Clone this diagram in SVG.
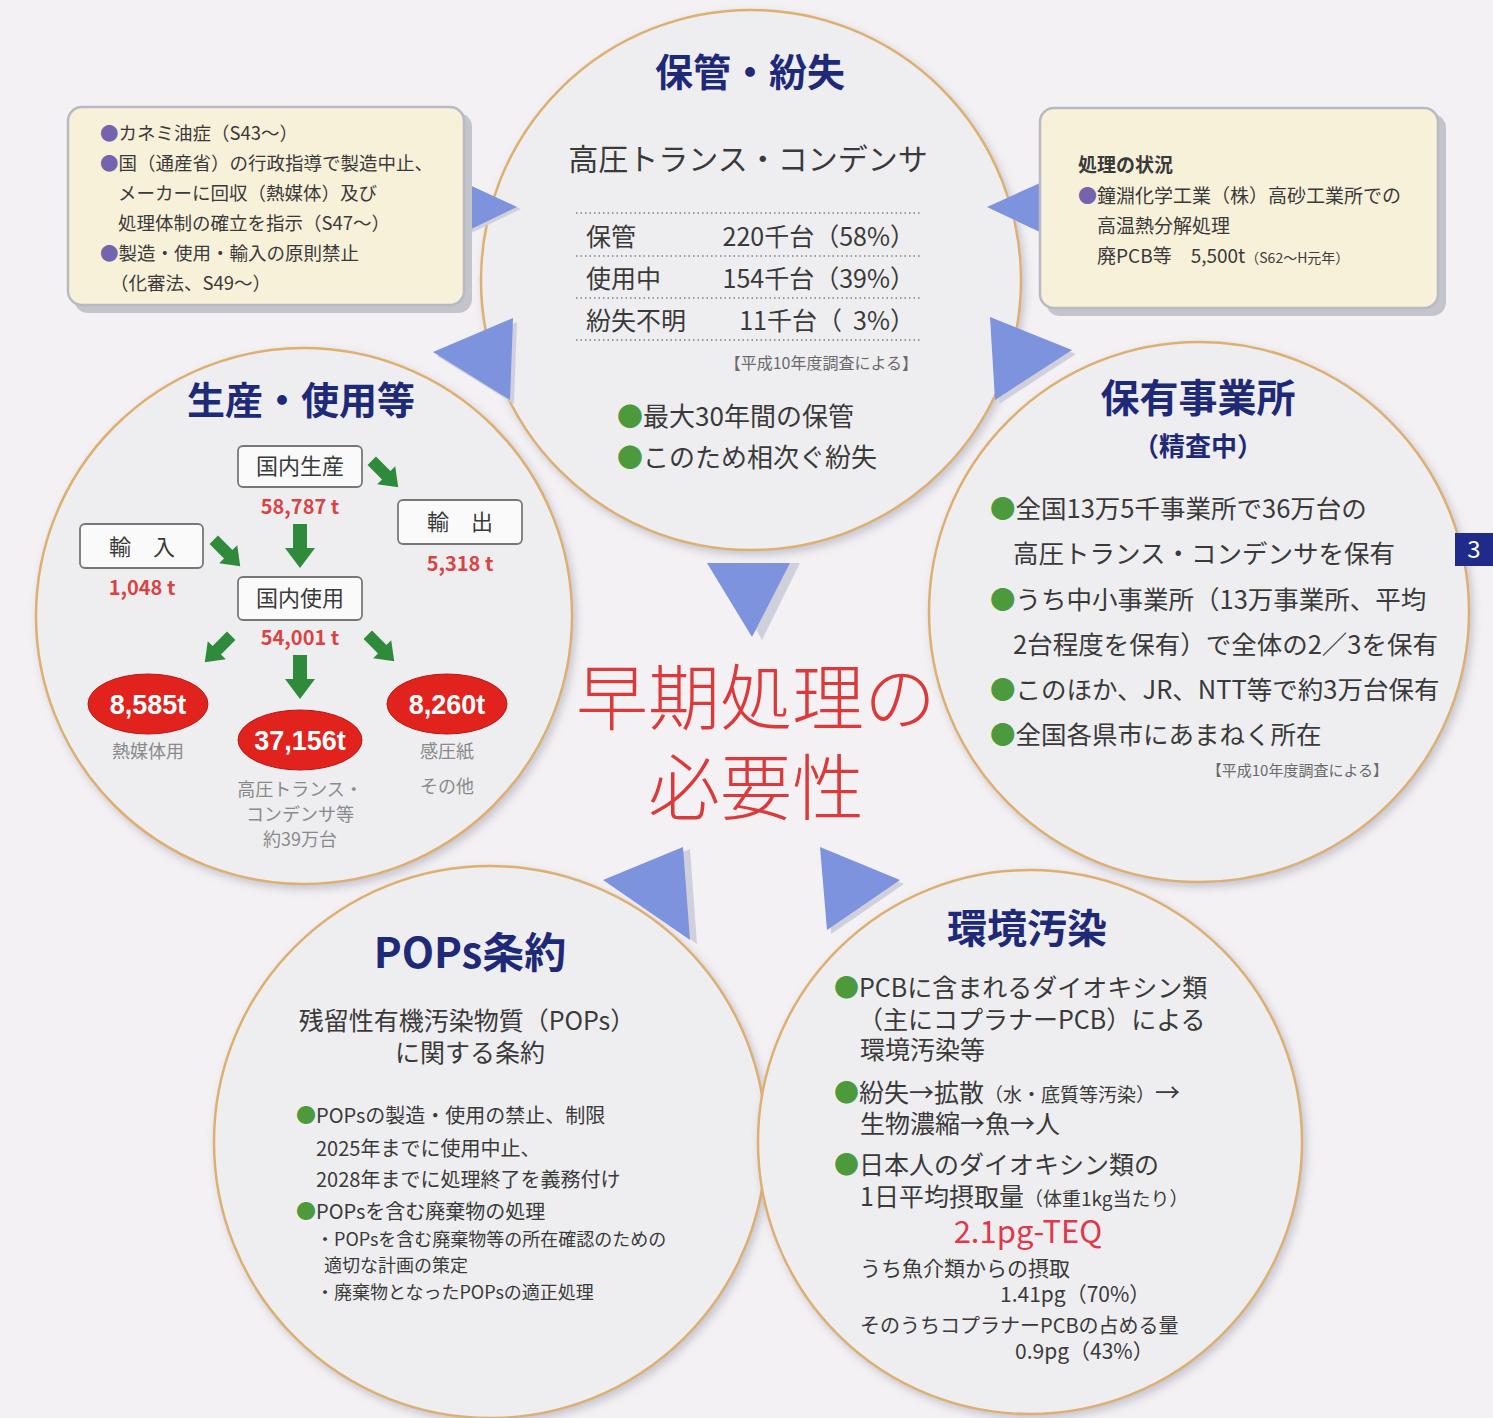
<svg xmlns="http://www.w3.org/2000/svg" xmlns:xlink="http://www.w3.org/1999/xlink" width="1493" height="1418" viewBox="0 0 1493 1418">
<style>
text{font-family:"Noto Sans CJK JP","Liberation Sans",sans-serif;fill:#3a3a3a}
.ttl{fill:#1e2a78;font-weight:bold;text-anchor:middle}
.circ{fill:#eeeef0;stroke:#ddb072;stroke-width:2.5}
.box{fill:#f8f1d9;stroke:#b9b9c3;stroke-width:2.5}
.boxsh{fill:#c4c4cc}
.barrow{fill:#7d93dd}
.ashadow{fill:#cfd0dc}
.gb{fill:#4c9a3c}
.pb{fill:#7464ad}
.sbox{fill:#fafafa;stroke:#777;stroke-width:1.8}
.red{fill:#d84444;font-weight:bold;text-anchor:middle;font-size:20px}
.oval{fill:#e1221d;stroke:#b81a16;stroke-width:1}
.ovt{fill:#ffffff;font-weight:bold;text-anchor:middle;font-size:27px;font-family:"Liberation Sans","Noto Sans CJK JP",sans-serif}
.gl{fill:#8a8a8a;text-anchor:middle;font-size:18px}
.note{fill:#6a6a6a;text-anchor:end}
.big{fill:#dc3a3a;font-size:72px;font-weight:300;text-anchor:middle}
.teq{fill:#e0384a;text-anchor:middle;font-size:31px}
.tabt{fill:#ffffff;text-anchor:middle;font-size:24px}
.garrow{fill:#2f8a3c}
.dot{stroke:#9a9a9a;stroke-width:2;stroke-dasharray:1.5 3}
</style>
<defs>
<filter id="sh" x="-10%" y="-10%" width="120%" height="120%">
<feDropShadow dx="3" dy="4" stdDeviation="4" flood-color="#8e8ea0" flood-opacity="0.45"/>
</filter>
<path id="ga" d="M-7,-22 H7 V2 H15 L0,22 L-15,2 H-7 Z"/>
</defs>
<rect x="0" y="0" width="1493" height="1418" fill="#f4f1f4"/>

<g id="node-production">
<circle class="circ" filter="url(#sh)" cx="304" cy="616" r="268"/>
<text class="ttl" x="301" y="414" font-size="38">生産・使用等</text>
<rect class="sbox" x="238" y="446" width="124" height="41" rx="5"/>
<text x="300" y="474" font-size="22" text-anchor="middle">国内生産</text>
<text class="red" x="300" y="514">58,787 t</text>
<rect class="sbox" x="398" y="500" width="124" height="44" rx="5"/>
<text x="460" y="530" font-size="22" text-anchor="middle">輸　出</text>
<text class="red" x="460" y="571">5,318 t</text>
<rect class="sbox" x="80" y="524" width="123" height="44" rx="5"/>
<text x="142" y="555" font-size="22" text-anchor="middle">輸　入</text>
<text class="red" x="142" y="595">1,048 t</text>
<rect class="sbox" x="238" y="577" width="124" height="43" rx="5"/>
<text x="300" y="606" font-size="22" text-anchor="middle">国内使用</text>
<text class="red" x="300" y="645">54,001 t</text>
<use class="garrow" xlink:href="#ga" transform="translate(385,474) rotate(-45) scale(0.85)"/>
<use class="garrow" xlink:href="#ga" transform="translate(300,546)"/>
<use class="garrow" xlink:href="#ga" transform="translate(227,553) rotate(-45) scale(0.85)"/>
<use class="garrow" xlink:href="#ga" transform="translate(218,649) rotate(45) scale(0.85)"/>
<use class="garrow" xlink:href="#ga" transform="translate(300,677)"/>
<use class="garrow" xlink:href="#ga" transform="translate(381,648) rotate(-45) scale(0.85)"/>
<ellipse class="oval" cx="148" cy="704" rx="60" ry="30"/>
<text class="ovt" x="148" y="714">8,585t</text>
<ellipse class="oval" cx="300" cy="740" rx="62" ry="30"/>
<text class="ovt" x="300" y="750">37,156t</text>
<ellipse class="oval" cx="447" cy="704" rx="60" ry="30"/>
<text class="ovt" x="447" y="714">8,260t</text>
<text class="gl" x="148" y="758">熱媒体用</text>
<text class="gl" x="447" y="758">感圧紙</text>
<text class="gl" x="447" y="793">その他</text>
<text class="gl" x="300" y="796">高圧トランス・</text>
<text class="gl" x="300" y="821">コンデンサ等</text>
<text class="gl" x="300" y="846">約39万台</text>
</g>

<g id="node-owners">
<circle class="circ" filter="url(#sh)" cx="1199" cy="612" r="270"/>
<text class="ttl" x="1198" y="412" font-size="39">保有事業所</text>
<text class="ttl" x="1198" y="456" font-size="26">（精査中）</text>
<text font-size="25.5" x="990" y="518"><tspan class="gb">●</tspan>全国13万5千事業所で36万台の</text>
<text font-size="25.5" x="1013" y="563">高圧トランス・コンデンサを保有</text>
<text font-size="25.5" x="990" y="609"><tspan class="gb">●</tspan>うち中小事業所（13万事業所、平均</text>
<text font-size="25.5" x="1013" y="654">2台程度を保有）で全体の2／3を保有</text>
<text font-size="25.5" x="990" y="699"><tspan class="gb">●</tspan>このほか、JR、NTT等で約3万台保有</text>
<text font-size="25.5" x="990" y="744"><tspan class="gb">●</tspan>全国各県市にあまねく所在</text>
<text class="note" font-size="15" x="1388" y="776">【平成10年度調査による】</text>
</g>

<g id="node-storage">
<circle class="circ" filter="url(#sh)" cx="751" cy="280" r="270"/>
<text class="ttl" x="750" y="86" font-size="38">保管・紛失</text>
<text x="748" y="170" font-size="30" text-anchor="middle">高圧トランス・コンデンサ</text>
<line class="dot" x1="576" y1="213" x2="920" y2="213"/>
<line class="dot" x1="576" y1="256" x2="920" y2="256"/>
<line class="dot" x1="576" y1="298" x2="920" y2="298"/>
<line class="dot" x1="576" y1="340" x2="920" y2="340"/>
<text font-size="25" x="586" y="246">保管</text>
<text font-size="25" x="915" y="246" text-anchor="end">220千台（58%）</text>
<text font-size="25" x="586" y="288">使用中</text>
<text font-size="25" x="915" y="288" text-anchor="end">154千台（39%）</text>
<text font-size="25" x="586" y="330">紛失不明</text>
<text font-size="25" x="915" y="330" text-anchor="end">11千台（&#160;&#160;3%）</text>
<text class="note" font-size="16" x="918" y="369">【平成10年度調査による】</text>
<text font-size="26" x="617" y="426"><tspan class="gb">●</tspan>最大30年間の保管</text>
<text font-size="26" x="617" y="467"><tspan class="gb">●</tspan>このため相次ぐ紛失</text>
</g>

<g id="node-pops">
<circle class="circ" filter="url(#sh)" cx="490" cy="1142" r="276"/>
<text class="ttl" x="470" y="968" font-size="42">POPs条約</text>
<text x="467" y="1030" font-size="25" text-anchor="middle">残留性有機汚染物質（POPs）</text>
<text x="470" y="1062" font-size="25" text-anchor="middle">に関する条約</text>
<text font-size="20" x="296" y="1123"><tspan class="gb">●</tspan>POPsの製造・使用の禁止、制限</text>
<text font-size="20" x="316" y="1156">2025年までに使用中止、</text>
<text font-size="20" x="316" y="1187">2028年までに処理終了を義務付け</text>
<text font-size="20" x="296" y="1219"><tspan class="gb">●</tspan>POPsを含む廃棄物の処理</text>
<text font-size="18" x="316" y="1246">・POPsを含む廃棄物等の所在確認のための</text>
<text font-size="18" x="324" y="1272">適切な計画の策定</text>
<text font-size="18" x="316" y="1299">・廃棄物となったPOPsの適正処理</text>
</g>

<g id="node-pollution">
<circle class="circ" filter="url(#sh)" cx="1030" cy="1142" r="272"/>
<text class="ttl" x="1027" y="943" font-size="40">環境汚染</text>
<text font-size="25" x="834" y="997"><tspan class="gb">●</tspan>PCBに含まれるダイオキシン類</text>
<text font-size="25" x="858" y="1029">（主にコプラナーPCB）による</text>
<text font-size="25" x="860" y="1059">環境汚染等</text>
<text font-size="25" x="834" y="1102"><tspan class="gb">●</tspan>紛失→拡散<tspan font-size="19">（水・底質等汚染）</tspan>→</text>
<text font-size="25" x="860" y="1133">生物濃縮→魚→人</text>
<text font-size="25" x="834" y="1174"><tspan class="gb">●</tspan>日本人のダイオキシン類の</text>
<text font-size="25" x="860" y="1206">1日平均摂取量<tspan font-size="19">（体重1kg当たり）</tspan></text>
<text class="teq" x="1028" y="1243">2.1pg-TEQ</text>
<text font-size="21" x="860" y="1276">うち魚介類からの摂取</text>
<text font-size="21" x="1000" y="1302">1.41pg（70%）</text>
<text font-size="20" x="860" y="1333">そのうちコプラナーPCBの占める量</text>
<text font-size="21" x="1015" y="1359">0.9pg（43%）</text>
</g>

<g id="connectors">
<polygon class="ashadow" points="469,185 521,209 469,234"/>
<polygon class="barrow" points="465,183 517,207 465,232"/>
<polygon class="ashadow" points="991,209 1044,185 1044,234"/>
<polygon class="barrow" points="987,207 1040,183 1040,232"/>
<polygon class="ashadow" points="437,356 517,322 514,404"/>
<polygon class="barrow" points="433,352 513,318 510,400"/>
<polygon class="ashadow" points="994,321 1076,354 999,404"/>
<polygon class="barrow" points="990,317 1072,350 995,400"/>
<polygon class="ashadow" points="718,563 800,563 762,640"/>
<polygon class="barrow" points="707,563 790,563 752,637"/>
<polygon class="ashadow" points="609,882 690,849 697,944"/>
<polygon class="barrow" points="603,880 683,847 690,940"/>
<polygon class="ashadow" points="824,851 904,884 831,934"/>
<polygon class="barrow" points="820,847 900,880 827,930"/>
</g>

<g id="box-left">
<rect class="boxsh" x="74" y="113" width="398" height="200" rx="14"/>
<rect class="box" x="68" y="107" width="396" height="198" rx="14"/>
<text font-size="18.5" x="100" y="140"><tspan class="pb">●</tspan>カネミ油症（S43～）</text>
<text font-size="18.5" x="100" y="170"><tspan class="pb">●</tspan>国（通産省）の行政指導で製造中止、</text>
<text font-size="18.5" x="118" y="200">メーカーに回収（熱媒体）及び</text>
<text font-size="18.5" x="118" y="230">処理体制の確立を指示（S47～）</text>
<text font-size="18.5" x="100" y="260"><tspan class="pb">●</tspan>製造・使用・輸入の原則禁止</text>
<text font-size="18.5" x="110" y="290">（化審法、S49～）</text>
</g>

<g id="box-right">
<rect class="boxsh" x="1046" y="114" width="400" height="202" rx="14"/>
<rect class="box" x="1040" y="108" width="398" height="200" rx="14"/>
<text font-size="19" x="1078" y="172" font-weight="bold">処理の状況</text>
<text font-size="19" x="1078" y="203"><tspan class="pb">●</tspan>鐘淵化学工業（株）高砂工業所での</text>
<text font-size="19" x="1097" y="233">高温熱分解処理</text>
<text font-size="19" x="1097" y="263">廃PCB等　5,500t<tspan font-size="14">（S62～H元年）</tspan></text>
</g>

<g id="center">
<text class="big" x="756" y="724">早期処理の</text>
<text class="big" x="756" y="814">必要性</text>
</g>

<g id="page-tab">
<rect x="1455" y="533" width="38" height="33" fill="#1f2a8a"/>
<text class="tabt" x="1474" y="558">3</text>
</g>
</svg>
